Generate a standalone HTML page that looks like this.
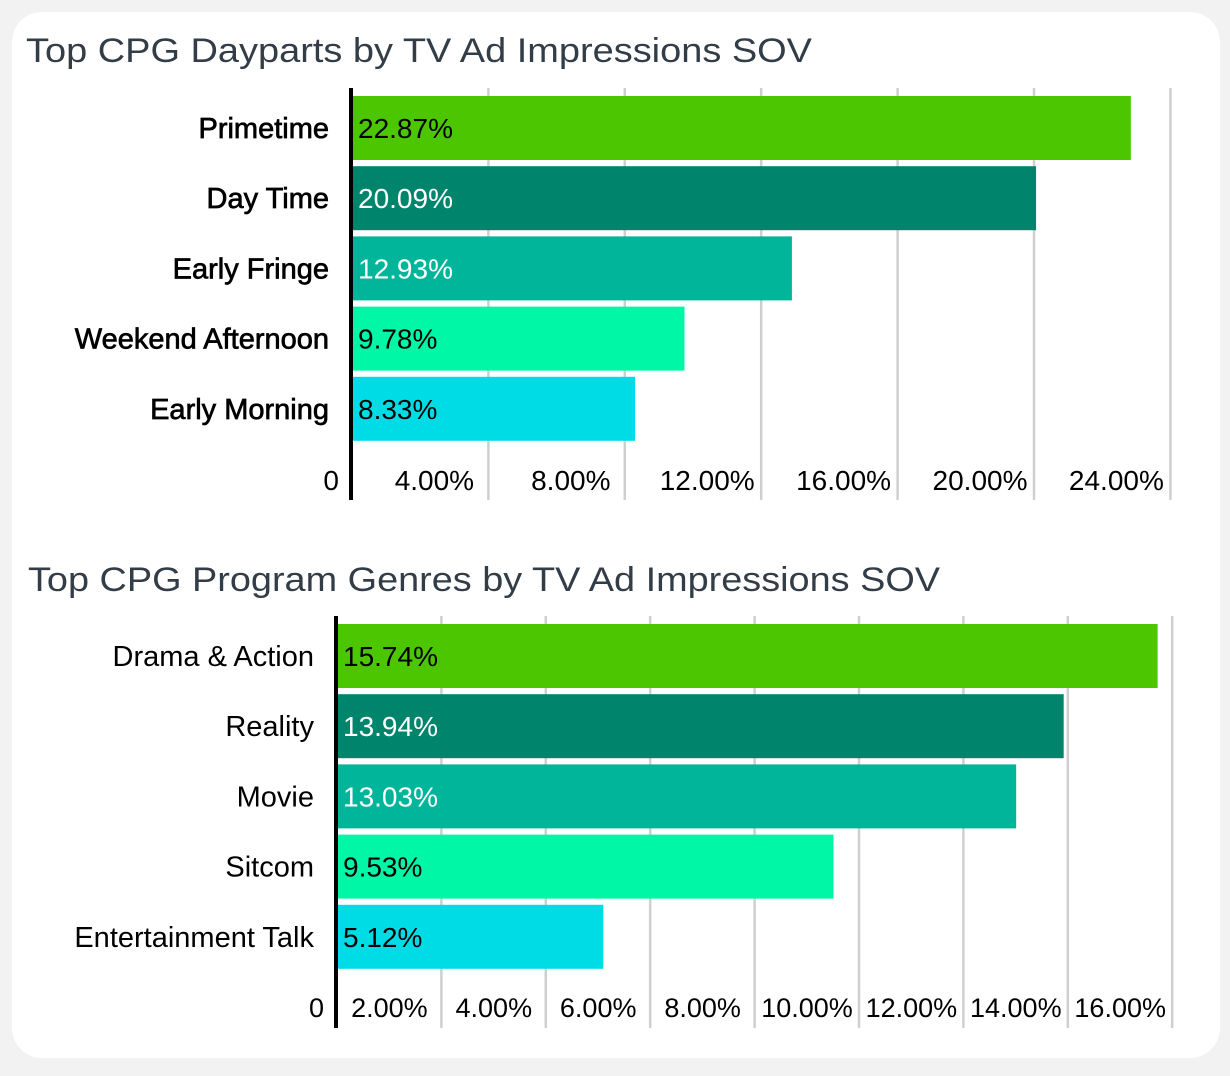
<!DOCTYPE html>
<html><head><meta charset="utf-8"><style>
body{margin:0;width:1230px;height:1076px;background:#f2f2f2;overflow:hidden;font-family:"Liberation Sans",sans-serif}
#card{position:absolute;left:12px;top:12px;width:1208px;height:1046px;background:#fff;border-radius:30px}
svg{position:absolute;left:0;top:0}
</style></head><body>
<div id="card"></div>
<svg id="s" width="1230" height="1076"></svg>
<script>
const cats1=["Primetime","Day Time","Early Fringe","Weekend Afternoon","Early Morning"];
const vals1=[22.87,20.09,12.93,9.78,8.33];
const ticks1=[0,4,8,12,16,20,24];
const cats2=["Drama & Action","Reality","Movie","Sitcom","Entertainment Talk"];
const vals2=[15.74,13.94,13.03,9.53,5.12];
const ticks2=[0,2,4,6,8,10,12,14,16];
const colors=["#4cc600","#00846b","#00b59a","#00f7a5","#00dce6"];
const textCol=["#000","#fff","#fff","#000","#000"];
const NS="http://www.w3.org/2000/svg";
const svg=document.getElementById('s');
function mk(t,a,txt){const e=document.createElementNS(NS,t);for(const k in a)e.setAttribute(k,a[k]);if(txt!=null)e.textContent=txt;svg.appendChild(e);return e;}
function chart(o){
  const x=v=>o.x0+v*o.ppu;
  const t=mk('text',{x:o.tx,y:o.ty,'font-size':34,fill:'#333d47',textLength:o.tlen,lengthAdjust:'spacingAndGlyphs'},o.title);
  
  o.ticks.forEach((tv,i)=>{
    if(i>0){const g=mk('line',{x1:x(tv)+(o.gOff),x2:x(tv)+o.gOff,y1:o.top,y2:o.bottom,stroke:'#cfcfcf','stroke-width':2.5});
      }
    const lab=i==0?'0':tv.toFixed(2)+'%';
    const lx=i==0?o.x0-12:x(tv)+o.gOff-o.labShift;
    const tl=mk('text',{x:lx,y:o.tickY,'font-size':o.tickFs,'text-anchor':i==0?'end':'middle',fill:'#000'},lab);
    
  });
  o.cats.forEach((c,i)=>{
    const y=o.barTop+i*o.pitch;
    const b=mk('rect',{x:o.x0,y:y,width:x(o.vals[i])-o.x0,height:64,fill:colors[i]});
    
    const cl=mk('text',{x:o.x0-22,y:y+42,'font-size':29,'text-anchor':'end',fill:'#000',stroke:'#000','stroke-width':o.sw},c);
    
    const vl=mk('text',{x:o.x0+7,y:y+42,'font-size':28,fill:textCol[i]},o.vals[i].toFixed(2)+'%');
    
  });
  const ax=mk('line',{x1:o.x0,x2:o.x0,y1:o.top,y2:o.bottom,stroke:'#000','stroke-width':4});
  
}
chart({id:'dayparts',title:'Top CPG Dayparts by TV Ad Impressions SOV',tx:26,ty:62,tlen:786,x0:351,ppu:34.1,ticks:ticks1,vals:vals1,cats:cats1,
  top:88,bottom:500,barTop:96,pitch:70.2,tickY:490,tickFs:28,gOff:1,labShift:54,sw:0.7});
chart({id:'genres',title:'Top CPG Program Genres by TV Ad Impressions SOV',tx:28,ty:591,tlen:912,x0:336,ppu:52.2,ticks:ticks2,vals:vals2,cats:cats2,
  top:616,bottom:1028,barTop:624,pitch:70.2,tickY:1017,tickFs:27,gOff:1,labShift:52,sw:0});
</script>
</body></html>
